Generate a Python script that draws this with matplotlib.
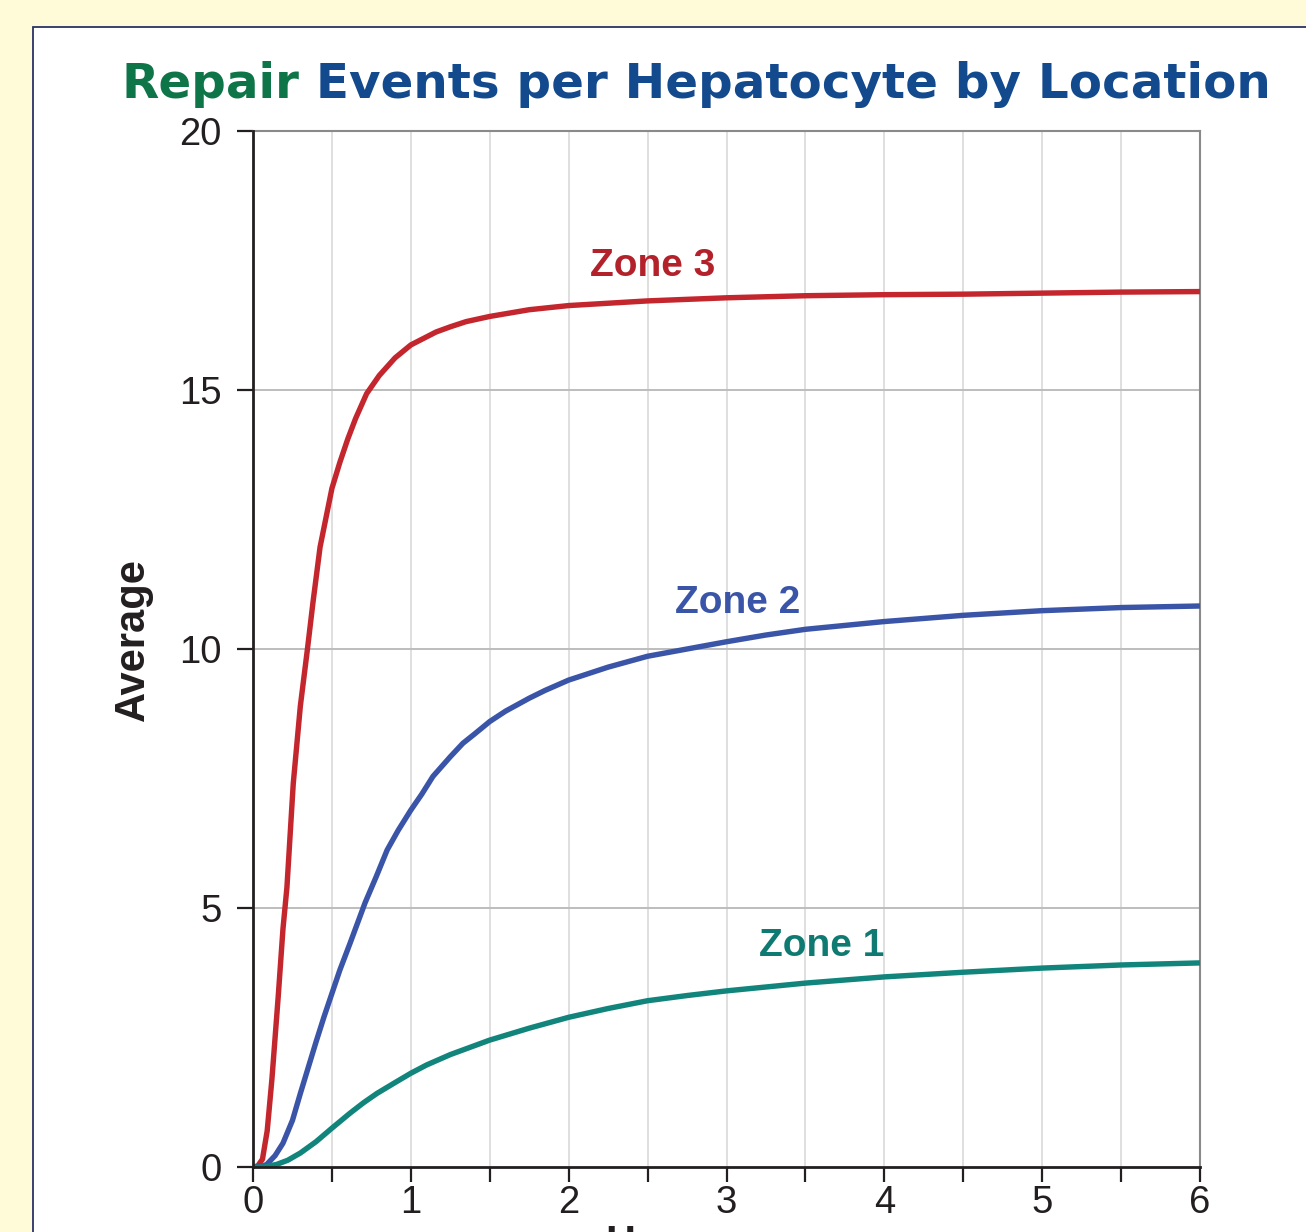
import matplotlib
matplotlib.use("Agg")
import matplotlib.pyplot as plt
from matplotlib.patches import Rectangle
from matplotlib.text import Annotation

# ---- data ----
zone3_x = [0, 0.03, 0.06, 0.09, 0.12, 0.14, 0.16, 0.19, 0.215, 0.255, 0.3, 0.345, 0.38, 0.425,
           0.5, 0.55, 0.6, 0.65, 0.72, 0.8, 0.85, 0.9, 1.0, 1.16, 1.25, 1.35, 1.5, 1.75,
           2.0, 2.5, 3.0, 3.5, 4.0, 4.5, 5.0, 5.5, 6.0]
zone3_y = [0, 0.02, 0.15, 0.7, 1.7, 2.5, 3.3, 4.6, 5.4, 7.4, 8.9, 10.0, 10.9, 11.97,
           13.1, 13.6, 14.05, 14.45, 14.93, 15.28, 15.45, 15.62, 15.87, 16.12, 16.22, 16.32, 16.42, 16.55,
           16.63, 16.72, 16.78, 16.82, 16.84, 16.85, 16.87, 16.89, 16.9]

zone2_x = [0, 0.05, 0.087, 0.14, 0.19, 0.25, 0.3, 0.35, 0.4, 0.45, 0.5, 0.55, 0.615, 0.71,
           0.78, 0.85, 0.92, 1.0, 1.07, 1.14, 1.25, 1.33, 1.4, 1.5, 1.6, 1.75, 1.85,
           2.0, 2.25, 2.5, 2.75, 3.0, 3.25, 3.5, 4.0, 4.5, 5.0, 5.5, 6.0]
zone2_y = [0, 0.0, 0.05, 0.22, 0.46, 0.9, 1.42, 1.92, 2.42, 2.9, 3.35, 3.8, 4.32, 5.1,
           5.6, 6.12, 6.5, 6.89, 7.2, 7.54, 7.92, 8.18, 8.35, 8.6, 8.8, 9.05, 9.2,
           9.40, 9.65, 9.86, 10.0, 10.14, 10.27, 10.38, 10.53, 10.65, 10.74, 10.8, 10.83]

zone1_x = [0, 0.07, 0.15, 0.22, 0.3, 0.4, 0.5, 0.615, 0.7, 0.785, 0.9, 1.0, 1.1, 1.25, 1.5,
           1.75, 2.0, 2.25, 2.5, 2.75, 3.0, 3.5, 4.0, 4.5, 5.0, 5.5, 6.0]
zone1_y = [0, 0.0, 0.05, 0.13, 0.27, 0.49, 0.75, 1.04, 1.24, 1.42, 1.63, 1.81, 1.97, 2.17, 2.45,
           2.68, 2.89, 3.06, 3.21, 3.31, 3.40, 3.55, 3.67, 3.76, 3.84, 3.9, 3.94]

x_ticks = [0, 1, 2, 3, 4, 5, 6]
y_ticks = [0, 5, 10, 15, 20]
zone_labels = ["Zone 1", "Zone 2", "Zone 3"]
title_green = "Repair"
title_blue = " Events per Hepatocyte by Location"
x_label = "Hours"
y_label = "Average"

W, H = 1306, 1232
fig = plt.figure(figsize=(W / 100, H / 100), dpi=100)
fig.patch.set_facecolor("#FFFAD7")

# white panel with navy border
panel = Rectangle((33 / W, -0.1), 2.0, 1 - 27 / H + 0.1, transform=fig.transFigure,
                  facecolor="white", edgecolor="#2B3266", linewidth=1.3, zorder=-5)
fig.patches.append(panel)

ax = fig.add_axes([253 / W, 1 - 1167 / H, (1200 - 253) / W, (1167 - 131) / H])
ax.set_zorder(2)
ax.set_facecolor("white")

red = "#C4262E"
blue = "#3A55A8"
teal = "#11857C"

for xs, ys, c in [(zone3_x, zone3_y, red), (zone2_x, zone2_y, blue), (zone1_x, zone1_y, teal)]:
    ax.plot(xs, ys, color=c, lw=3.9, solid_capstyle="butt", solid_joinstyle="round", zorder=3)

ax.set_xlim(0, 6)
ax.set_ylim(0, 20)

# grid
minor_x = [0.5 * i for i in range(13)]
for xv in minor_x[1:-1]:
    ax.axvline(xv, color="#D9D9D9", lw=1.2, zorder=1)
for yv in [5, 10, 15]:
    ax.axhline(yv, color="#BDBDBD", lw=1.4, zorder=1)

ax.set_xticks(minor_x)
ax.set_xticklabels([(str(int(v)) if v in x_ticks else "") for v in minor_x])
ax.set_yticks(y_ticks)
ax.set_yticklabels([str(v) for v in y_ticks])

for lab in ax.get_xticklabels() + ax.get_yticklabels():
    lab.set_fontfamily("Liberation Sans")
    lab.set_fontsize(27.5)
    lab.set_color("#231F20")

ax.tick_params(axis="x", direction="out", length=11, width=1.6, color="#231F20", pad=2)
ax.tick_params(axis="y", direction="out", length=11.5, width=1.6, color="#231F20", pad=11)

for s in ["left", "bottom"]:
    ax.spines[s].set_color("#231F20")
    ax.spines[s].set_linewidth(2.0)
    ax.spines[s].set_zorder(4)
for s in ["top", "right"]:
    ax.spines[s].set_color("#8A8A8A")
    ax.spines[s].set_linewidth(1.5)

# zone labels
ax.text(2.535, 17.39, zone_labels[2], color="#B3212B", fontsize=28, fontweight="bold",
        family="Liberation Sans", ha="center", va="center")
ax.text(3.07, 10.89, zone_labels[1], color="#3A55A8", fontsize=28, fontweight="bold",
        family="Liberation Sans", ha="center", va="center")
ax.text(3.6, 4.27, zone_labels[0], color="#0F7A72", fontsize=28, fontweight="bold",
        family="Liberation Sans", ha="center", va="center")

# title (two colours)
t1 = fig.text(121 / W, 1 - 97.7 / H, title_green, color="#0E7548", fontsize=34.8,
              fontweight="bold", family="DejaVu Sans", ha="left", va="baseline")
t2 = Annotation(title_blue, xy=(1, 0), xycoords=t1, va="bottom", ha="left",
                color="#134A8E", fontsize=34.8, fontweight="bold", family="DejaVu Sans",
                annotation_clip=False)
fig.add_artist(t2)

# axis labels
fig.text(133 / W, 1 - 640 / H, y_label, rotation=90, fontsize=30, fontweight="bold",
         family="Liberation Sans", color="#231F20", ha="center", va="center")
fig.text(605 / W, 1 - 1255 / H, x_label, fontsize=30, fontweight="bold",
         family="Liberation Sans", color="#231F20", ha="left", va="baseline")

fig.savefig("out.png", dpi=100, facecolor=fig.get_facecolor())
